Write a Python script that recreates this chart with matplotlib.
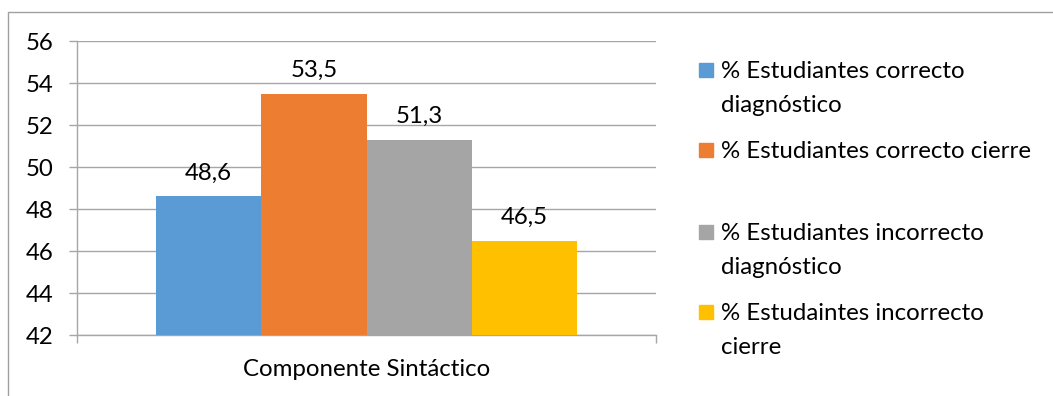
import matplotlib
matplotlib.use("Agg")
import matplotlib.pyplot as plt
from matplotlib.patches import Rectangle

categories = ["Componente Sintáctico"]
series_names = ["% Estudiantes correcto\ndiagnóstico",
                "% Estudiantes correcto cierre",
                "% Estudiantes incorrecto\ndiagnóstico",
                "% Estudaintes incorrecto\ncierre"]
values = [48.6, 53.5, 51.3, 46.5]
colors = ["#5B9BD5", "#ED7D31", "#A5A5A5", "#FFC000"]
yticks = [42, 44, 46, 48, 50, 52, 54, 56]

plt.rcParams['font.family'] = ['Lato', 'DejaVu Sans']
FS = 17.3
W, H = 1053, 396
fig = plt.figure(figsize=(W/100, H/100), dpi=100)
ax = fig.add_axes([77/W, 1-335/H, (656-77)/W, (335-41)/H])

n = len(values)
bw = 1/(n + 1.5)
for i, (v, c) in enumerate(zip(values, colors)):
    x = (i - (n-1)/2) * bw
    ax.bar(x, v - 42, bottom=42, width=bw, color=c, zorder=3)
    ax.annotate(f"{v:.1f}".replace('.', ','), (x, v), xytext=(0, 9),
                textcoords='offset points', ha='center', va='bottom',
                fontsize=FS, color='#000000')

ax.set_xlim(-0.5, 0.5)
ax.set_ylim(42, 56)
ax.set_yticks(yticks)
ax.set_yticklabels([str(t) for t in yticks], fontsize=FS)
ax.yaxis.grid(True, color='#a6a6a6', lw=1, zorder=0)
ax.tick_params(axis='y', length=6, color='#a6a6a6', pad=11, width=1)
ax.set_xticks([0])
ax.set_xticklabels(categories, fontsize=FS)
ax.tick_params(axis='x', which='major', length=0, pad=17)
ax.set_xticks([-0.5, 0.5], minor=True)
ax.tick_params(axis='x', which='minor', length=6, color='#a6a6a6', width=1)
for s in ['top', 'right']:
    ax.spines[s].set_visible(False)
for s in ['left', 'bottom']:
    ax.spines[s].set_color('#a6a6a6')
    ax.spines[s].set_linewidth(1)

# chart-area border (only left/top visible)
fig.patches.append(Rectangle((8/W, -0.1), 1.2, 1 - 12/H + 0.1, transform=fig.transFigure,
                             fill=False, edgecolor='#a0a0a0', lw=1))

# legend
leg_y = [70, 150, 232, 312]
for name, c, y in zip(series_names, colors, leg_y):
    fig.patches.append(Rectangle((699/W, 1-(y+7)/H), 14/W, 14/H,
                                 transform=fig.transFigure, color=c))
    for k, line in enumerate(name.split("\n")):
        fig.text(721/W, 1-(y + 33*k)/H, line, fontsize=FS, va='center_baseline',
                 ha='left')

fig.savefig("out.png", dpi=100)
